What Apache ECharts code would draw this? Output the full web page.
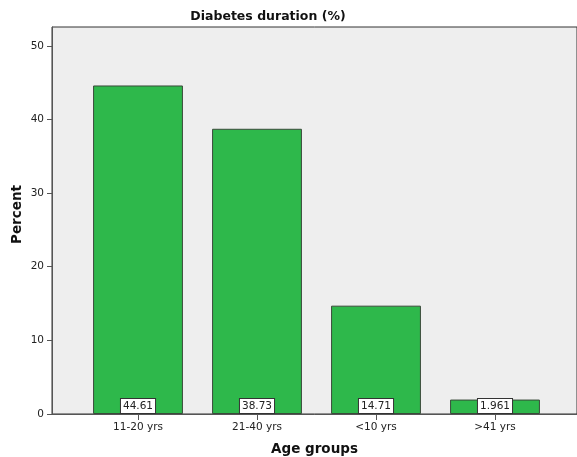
<!DOCTYPE html>
<html>
<head>
<meta charset="utf-8">
<script src="https://cdn.jsdelivr.net/npm/echarts@6/dist/echarts.min.js"></script>
<style>html,body{margin:0;padding:0;background:#fff}#c{width:577px;height:457px}</style>
</head>
<body>
<div id="c"></div>
<script>
const categories = ['11-20 yrs', '21-40 yrs', '<10 yrs', '>41 yrs'];
const percentValues = [44.61, 38.73, 14.71, 1.961];
const yTickValues = [0, 10, 20, 30, 40, 50];

const FONT = 'DejaVu Sans';
const chart = echarts.init(document.getElementById('c'), null, {renderer: 'canvas'});
const yMax = 52.55;

chart.setOption({
  animation: false,
  title: {
    text: 'Diabetes duration (%)',
    left: 263, textAlign: 'center', top: 5,
    textStyle: {fontFamily: FONT, fontSize: 12.5, fontWeight: 'bold', color: '#111'}
  },
  grid: [
    {left: 52, right: 0, top: 27, bottom: 43, show: true, backgroundColor: '#eeeeee', borderColor: '#333', borderWidth: 1, outerBoundsMode: 'none', containLabel: false},
    {left: 78.5, right: 22.5, top: 27, bottom: 43, outerBoundsMode: 'none', containLabel: false}
  ],
  xAxis: [
    {
      gridIndex: 0, type: 'value', min: 0, max: 1,
      axisLine: {show: true, lineStyle: {color: '#555', width: 1}},
      axisTick: {show: false}, axisLabel: {show: false}, splitLine: {show: false},
      name: 'Age groups', nameLocation: 'middle', nameGap: 28, nameMoveOverlap: false,
      nameTextStyle: {fontFamily: FONT, fontSize: 13.5, fontWeight: 'bold', color: '#111'}
    },
    {
      gridIndex: 1, type: 'category', data: categories,
      axisLine: {show: false},
      axisTick: {show: true, alignWithLabel: true, length: 6, lineStyle: {color: '#555'}},
      axisLabel: {fontFamily: FONT, fontSize: 10.5, color: '#222', margin: 8}
    }
  ],
  yAxis: [
    {
      gridIndex: 0, type: 'value', min: 0, max: yMax, interval: 10,
      axisLine: {show: true, lineStyle: {color: '#555', width: 1}},
      axisTick: {show: true, length: 5, customValues: yTickValues, lineStyle: {color: '#555'}},
      axisLabel: {fontFamily: FONT, fontSize: 10.5, color: '#222', margin: 8, customValues: yTickValues},
      splitLine: {show: false},
      name: 'Percent', nameLocation: 'middle', nameGap: 28, nameMoveOverlap: false,
      nameTextStyle: {fontFamily: FONT, fontSize: 13.5, fontWeight: 'bold', color: '#111', padding: [0, 0, 0, 12]}
    },
    {
      gridIndex: 1, type: 'value', min: 0, max: yMax, show: false, splitLine: {show: false}
    }
  ],
  series: [{
    type: 'bar',
    xAxisIndex: 1, yAxisIndex: 1,
    data: percentValues,
    barWidth: '75.5%',
    itemStyle: {color: '#2eb84b', borderColor: '#3a4a3a', borderWidth: 1},
    label: {
      show: true, position: 'insideBottom', distance: 1,
      formatter: p => String(p.value),
      fontFamily: FONT, fontSize: 10.5, color: '#222',
      backgroundColor: '#ffffff', borderColor: '#333', borderWidth: 1,
      padding: [2, 2, 1, 2]
    }
  }]
});
</script>
</body>
</html>
